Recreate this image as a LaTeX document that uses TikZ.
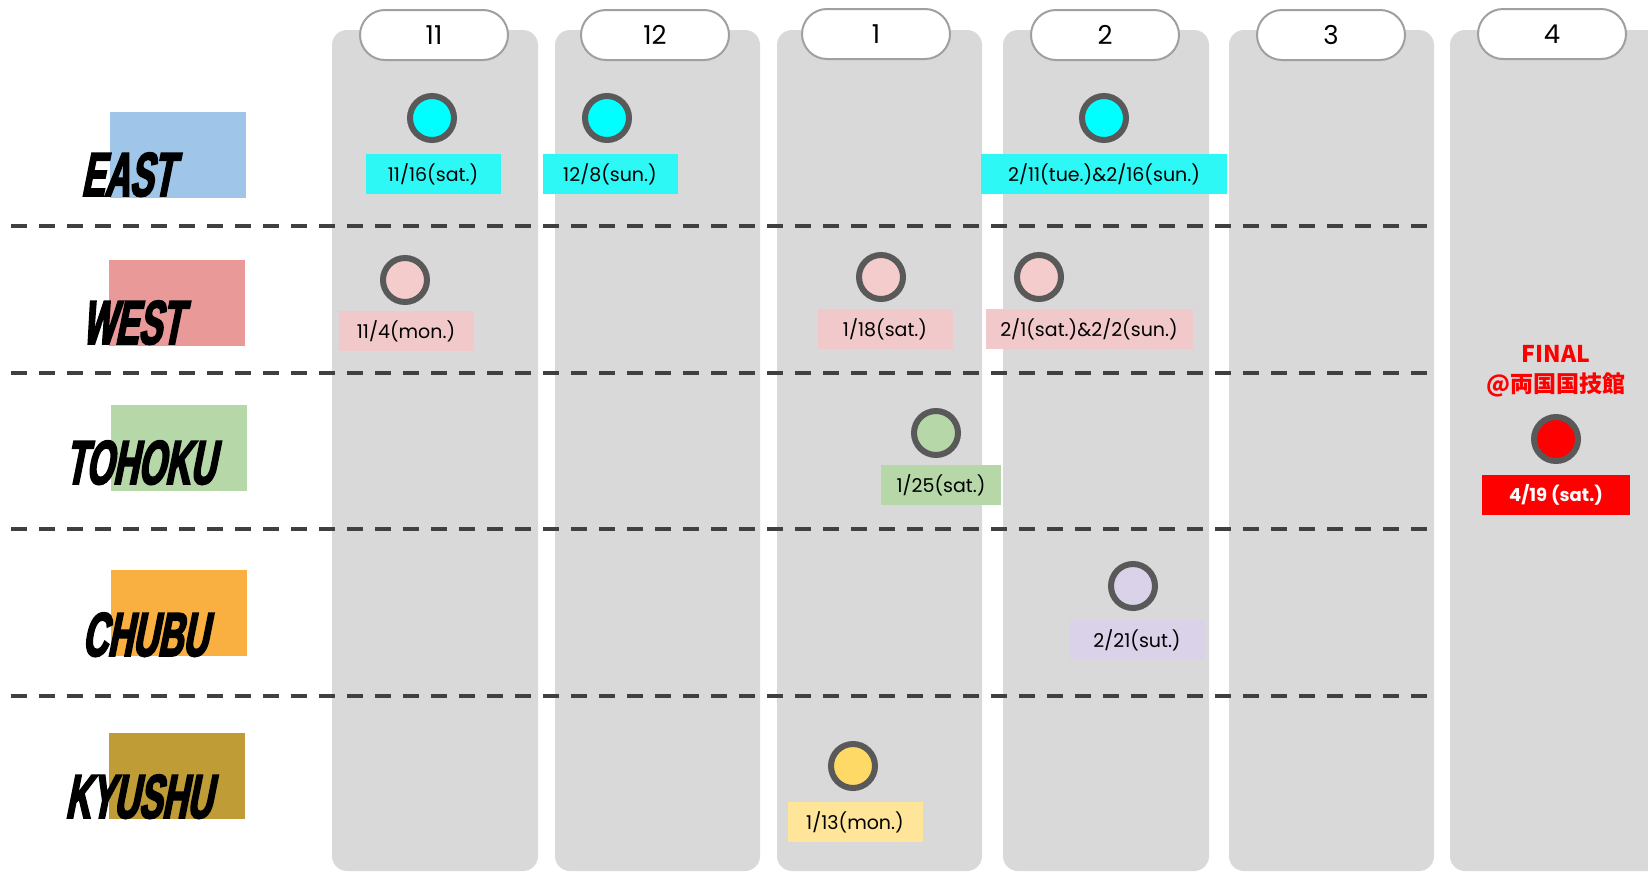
\documentclass[tikz,border=0pt]{standalone}
\usepackage{fontspec}
\setmainfont{Poppins}
\newfontfamily\jpfont{Noto Sans CJK JP}
\newfontfamily\regionfont{Liberation Sans}[FakeSlant=0.2,FakeStretch=0.56,FakeBold=3]
\usetikzlibrary{positioning}
\definecolor{colgray}{RGB}{217,217,217}
\definecolor{pillgray}{RGB}{160,160,160}
\definecolor{ringgray}{RGB}{89,89,89}
\definecolor{dashgray}{RGB}{64,64,64}
\definecolor{eastblue}{RGB}{159,197,232}
\definecolor{westred}{RGB}{234,153,153}
\definecolor{tohokugreen}{RGB}{182,215,168}
\definecolor{chubuorange}{RGB}{249,176,64}
\definecolor{kyushugold}{RGB}{192,156,54}
\definecolor{eastcyan}{RGB}{0,255,255}
\definecolor{eastlabel}{RGB}{46,248,245}
\definecolor{westpink}{RGB}{244,204,204}
\definecolor{westlabel}{RGB}{242,201,202}
\definecolor{chubulilac}{RGB}{217,210,233}
\definecolor{kyushuyellow}{RGB}{255,217,102}
\definecolor{kyushulabel}{RGB}{255,229,153}

\begin{document}
\begin{tikzpicture}[x=1pt,y=-1pt,
    month/.style={fill=colgray,rounded corners=15pt},
    pill/.style={draw=pillgray,line width=2pt,fill=white,rounded corners=25pt,
                 minimum width=148pt,minimum height=50pt,inner sep=0pt,
                 font=\fontsize{26}{26}\selectfont},
    regionbox/.style={minimum width=136pt,minimum height=86pt,inner sep=0pt},
    region/.style={anchor=base west,inner sep=0pt,
                   font=\regionfont\bfseries\fontsize{62}{62}\selectfont},
    dot/.style={circle,draw=ringgray,line width=6pt,minimum size=44pt,inner sep=0pt},
    datebox/.style={minimum width=135pt,minimum height=40pt,inner sep=0pt,
                    font=\fontsize{19}{19}\selectfont},
    sep/.style={dashgray,line width=4pt,dash pattern=on 16pt off 12pt},
  ]
  \clip (0,0) rectangle (1648,873);
  \fill[white] (0,0) rectangle (1648,873);

  \fill[month] (332,30) rectangle (538,871);
  \fill[month] (555,30) rectangle (760,871);
  \fill[month] (777,30) rectangle (982,871);
  \fill[month] (1003,30) rectangle (1209,871);
  \fill[month] (1229,30) rectangle (1434,871);
  \fill[month] (1450,30) rectangle (1680,871);

  \node[pill](m11) at (434,35){11};
  \node[pill](m12) at (655,35){12};
  \node[pill](m1) at (876,34){1};
  \node[pill](m2) at (1105,35){2};
  \node[pill](m3) at (1331,35){3};
  \node[pill](m4) at (1552,34){4};

  \draw[sep] (11,226) -- (1428,226);
  \draw[sep] (11,373) -- (1428,373);
  \draw[sep] (11,529) -- (1428,529);
  \draw[sep] (11,696) -- (1428,696);

  \node[regionbox,fill=eastblue](eastbox) at (178,155){};
  \node[regionbox,fill=westred](westbox) at (177,303){};
  \node[regionbox,fill=tohokugreen](tohokubox) at (179,448){};
  \node[regionbox,fill=chubuorange](chububox) at (179,613){};
  \node[regionbox,fill=kyushugold](kyushubox) at (177,776){};
  \node[region](east) at (81,196){EAST};
  \node[region](west) at (82,344){WEST};
  \node[region](tohoku) at (65,484){TOHOKU};
  \node[region](chubu) at (82,656){CHUBU};
  \node[region](kyushu) at (65,818){KYUSHU};

  \node[dot,fill=eastcyan](e11) at (432,118){};
  \node[datebox,fill=eastlabel,below=11pt of e11,xshift=1pt](de11){11/16(sat.)};
  \node[dot,fill=eastcyan](e12) at (607,118){};
  \node[datebox,fill=eastlabel,below=11pt of e12,xshift=3pt](de12){12/8(sun.)};
  \node[dot,fill=eastcyan](e2) at (1104,118){};
  \node[datebox,fill=eastlabel,below=11pt of e2,minimum width=246pt](de2){2/11(tue.)\&2/16(sun.)};

  \node[dot,fill=westpink](w11) at (405,280){};
  \node[datebox,fill=westlabel,below=6pt of w11,xshift=1pt](dw11){11/4(mon.)};
  \node[dot,fill=westpink](w1) at (881,277){};
  \node[datebox,fill=westlabel,below=7pt of w1,xshift=4pt](dw1){1/18(sat.)};
  \node[dot,fill=westpink](w2) at (1039,277){};
  \node[datebox,fill=westlabel,below=7pt of w2,xshift=50pt,minimum width=207pt](dw2){2/1(sat.)\&2/2(sun.)};

  \node[dot,fill=tohokugreen](t1) at (936,433){};
  \node[datebox,fill=tohokugreen,below=7pt of t1,xshift=5pt,minimum width=120pt](dt1){1/25(sat.)};

  \node[dot,fill=chubulilac](c2) at (1133,586){};
  \node[datebox,fill=chubulilac,below=9pt of c2,xshift=4pt](dc2){2/21(sut.)};

  \node[dot,fill=kyushuyellow](k1) at (853,766){};
  \node[datebox,fill=kyushulabel,below=11pt of k1,xshift=2pt](dk1){1/13(mon.)};

  \node[align=center,text=red,font=\jpfont\bfseries\fontsize{23}{30}\selectfont](final)
    at (1556,371){FINAL\\@両国国技館};
  \node[dot,fill=red](f4) at (1556,439){};
  \node[datebox,fill=red,text=white,below=11pt of f4,minimum width=148pt,
        font=\bfseries\fontsize{18}{18}\selectfont](df4){4/19 (sat.)};
\end{tikzpicture}
\end{document}
